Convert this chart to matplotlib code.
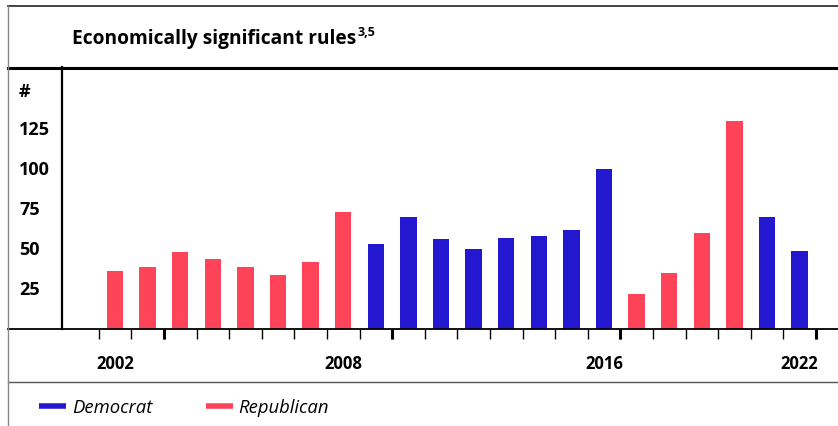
import matplotlib
matplotlib.use("Agg")
import matplotlib.pyplot as plt
from matplotlib.lines import Line2D

# Data
# --------------
years = list(range(2001, 2023))
rules = [36, 39, 48, 44, 39, 34, 42, 73,
         53, 70, 56, 50, 57, 58, 62, 100,
         22, 35, 60, 130,
         70, 49]
party = ['R'] * 8 + ['D'] * 8 + ['R'] * 4 + ['D'] * 2
year_label_idx = [0, 7, 15, 21]
year_label_txt = ['2002', '2008', '2016', '2022']
y_ticks = [25, 50, 75, 100, 125]

colors = {'D': '#2318D0', 'R': '#FF4459'}
W, H = 838, 427
plt.rcParams['font.family'] = ['Open Sans', 'DejaVu Sans']


def fx(x):
    return x / W


def fy(y):
    return 1 - y / H


fig = plt.figure(figsize=(W / 100, H / 100), dpi=100)
ax = fig.add_axes([fx(62), fy(330), fx(838 - 62), (330 - 68) / H])

x = list(range(len(years)))
ax.bar(x, rules, width=0.5, color=[colors[p] for p in party], zorder=2)

ax.set_xlim((62 - 115) / 32.6, (838 - 115) / 32.6)
ax.set_ylim(0, 262 / 1.6)

# y axis
ax.set_yticks(y_ticks)
ax.set_yticklabels([str(v) for v in y_ticks], fontsize=13, fontweight='bold')
ax.tick_params(axis='y', length=0, pad=43 * 0.72)
for lab in ax.get_yticklabels():
    lab.set_horizontalalignment('left')
    lab.set_verticalalignment('center')

# x axis: thin ticks at each year boundary, labels under some bars
ax.set_xticks([i - 0.5 for i in range(len(years) + 1)], minor=True)
ax.set_xticks(year_label_idx)
ax.set_xticklabels(year_label_txt, fontsize=12, fontweight='bold')
ax.tick_params(axis='x', which='major', length=0, pad=25 * 0.72)
ax.tick_params(axis='x', which='minor', length=10 * 0.72, width=1, color='black')
# thicker ticks
ax.vlines([1.5, 8.5, 15.5, 21.5], -10 / 262, 0, transform=ax.get_xaxis_transform(),
          color='black', linewidth=2.2, clip_on=False)

for s in ['top', 'right', 'bottom']:
    ax.spines[s].set_visible(False)
ax.spines['left'].set_linewidth(1.6)

# frame lines
fig.add_artist(Line2D([fx(8), 1], [fy(330), fy(330)], color='black', lw=1.3))
fig.add_artist(Line2D([fx(8), 1], [fy(68.5), fy(68.5)], color='black', lw=2.2))
fig.add_artist(Line2D([fx(8), 1], [fy(7), fy(7)], color='#222222', lw=1.2))
fig.add_artist(Line2D([fx(8), 1], [fy(383), fy(383)], color='#555555', lw=1.0))
fig.add_artist(Line2D([fx(8), fx(8)], [fy(7), 0], color='#888888', lw=1.0))

# title and unit
title = fig.text(fx(72), fy(39), 'Economically significant rules',
                 fontsize=13.8, fontweight='bold', va='center', ha='left')
r = fig.canvas.get_renderer()
bb = title.get_window_extent(r)
fig.text((bb.x1 + 1) / W, fy(33), '3,5', fontsize=9, fontweight='bold', va='center', ha='left')
fig.text(fx(19), fy(92), '#', fontsize=13, fontweight='bold', va='center', ha='left')

# Legend
handles = [Line2D([], [], color=colors['D'], lw=4.0, solid_capstyle='butt', label='Democrat'),
           Line2D([], [], color=colors['R'], lw=4.0, solid_capstyle='butt', label='Republican')]
fig.legend(handles=handles, loc='center left', bbox_to_anchor=(fx(39), fy(408)), ncol=2,
           frameon=False, prop={'style': 'italic', 'size': 13.3}, handlelength=1.45,
           handletextpad=0.33, columnspacing=2.9, borderpad=0, borderaxespad=0)

fig.savefig('out.png', dpi=100)
